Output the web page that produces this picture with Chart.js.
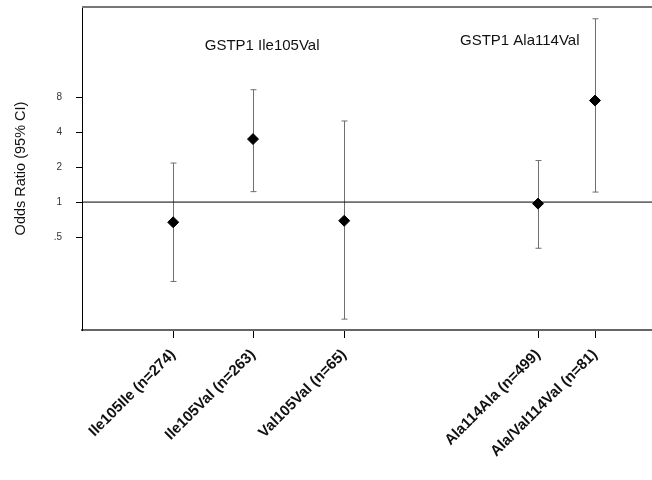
<!DOCTYPE html>
<html>
<head>
<meta charset="utf-8">
<script src="https://cdn.jsdelivr.net/npm/chart.js@4/dist/chart.umd.min.js"></script>
<style>
  html, body { margin: 0; padding: 0; background: #fff; }
  #wrap { width: 652px; height: 480px; position: relative; }
</style>
</head>
<body>
<div id="wrap"><canvas id="c"></canvas></div>
<script>
// genotype groups
const categories = ['Ile105Ile (n=274)', 'Ile105Val (n=263)', 'Val105Val (n=65)', 'Ala114Ala (n=499)', 'Ala/Val114Val (n=81)'];
const slots = [1.6, 3, 4.6, 8, 9];          // place of each group along the x axis
const oddsRatio = [0.67, 3.49, 0.69, 0.97, 7.5];
const ciLow = [0.207, 1.23, 0.098, 0.40, 1.22];
const ciHigh = [2.17, 9.3, 5.0, 2.28, 38];
const yTicks = [0.5, 1, 2, 4, 8];
const yTickLabels = ['.5', '1', '2', '4', '8'];
const groupTitles = ['GSTP1 Ile105Val', 'GSTP1 Ala114Val'];
const groupTitleX = [3.16, 7.68];
const groupTitleY = [22.3, 24.5];

const FONT = '"Liberation Sans", Arial, sans-serif';

const errorBars = {
    id: 'errorBars',
    beforeDatasetsDraw(chart) {
        const { ctx, scales: { x, y }, chartArea } = chart;
        ctx.save();
        // top frame line
        ctx.strokeStyle = '#777';
        ctx.lineWidth = 2;
        ctx.beginPath();
        ctx.moveTo(chartArea.left, chartArea.top);
        ctx.lineTo(chartArea.right, chartArea.top);
        ctx.stroke();

        ctx.strokeStyle = '#6f6f6f';
        ctx.lineWidth = 1;
        slots.forEach((s, i) => {
            const px = Math.round(x.getPixelForValue(s)) + 0.5;
            const top = y.getPixelForValue(ciHigh[i]);
            const bot = y.getPixelForValue(ciLow[i]);
            ctx.beginPath();
            ctx.moveTo(px, top); ctx.lineTo(px, bot);
            ctx.moveTo(px - 3, top); ctx.lineTo(px + 3, top);
            ctx.moveTo(px - 3, bot); ctx.lineTo(px + 3, bot);
            ctx.stroke();
        });

        ctx.fillStyle = '#111';
        ctx.font = '15px ' + FONT;
        ctx.textAlign = 'center';
        ctx.textBaseline = 'middle';
        groupTitles.forEach((t, i) => {
            ctx.fillText(t, x.getPixelForValue(groupTitleX[i]), y.getPixelForValue(groupTitleY[i]));
        });
        ctx.restore();
    }
};

new Chart(document.getElementById('c'), {
    type: 'scatter',
    data: {
        datasets: [
            {
                type: 'line',
                data: [{ x: 0, y: 1 }, { x: 10, y: 1 }],
                borderColor: '#000',
                borderWidth: 1,
                pointRadius: 0
            },
            {
                data: slots.map((s, i) => ({ x: s, y: oddsRatio[i] })),
                pointStyle: 'rectRot',
                pointRadius: 5.5,
                backgroundColor: '#000',
                borderColor: '#000',
                borderWidth: 1
            }
        ]
    },
    options: {
        responsive: true,
        maintainAspectRatio: false,
        animation: false,
        layout: { autoPadding: false, padding: { top: 7, right: 0, left: 0, bottom: 0 } },
        plugins: { legend: { display: false }, tooltip: { enabled: false } },
        scales: {
            x: {
                type: 'linear',
                min: 0,
                max: 10,
                afterBuildTicks: scale => { scale.ticks = slots.map(v => ({ value: v })); },
                afterFit: scale => {
                    scale.height = 150;
                    scale.paddingLeft = 0;
                    scale.paddingRight = 0;
                },
                ticks: {
                    autoSkip: false,
                    minRotation: 45,
                    maxRotation: 45,
                    padding: 8,
                    color: '#111',
                    font: { family: FONT, size: 15, weight: 'bold' },
                    callback: v => categories[slots.indexOf(v)]
                },
                grid: { drawOnChartArea: false, tickLength: 8, color: '#000' },
                border: { color: '#666', width: 2 }
            },
            y: {
                type: 'logarithmic',
                min: 0.079,
                max: 48,
                afterBuildTicks: scale => { scale.ticks = yTicks.map(v => ({ value: v })); },
                afterFit: scale => {
                    scale.width = 82;
                    scale.paddingTop = 0;
                    scale.paddingBottom = 0;
                },
                ticks: {
                    padding: 14,
                    color: '#333',
                    font: { family: FONT, size: 10 },
                    callback: v => yTickLabels[yTicks.indexOf(v)]
                },
                grid: { drawOnChartArea: false, tickLength: 6, color: '#000' },
                border: { color: '#000', width: 1 },
                title: {
                    display: true,
                    text: 'Odds Ratio (95% CI)',
                    color: '#111',
                    padding: { top: 12, bottom: 0 },
                    font: { family: FONT, size: 14.5 }
                }
            }
        }
    },
    plugins: [errorBars]
});
</script>
</body>
</html>
